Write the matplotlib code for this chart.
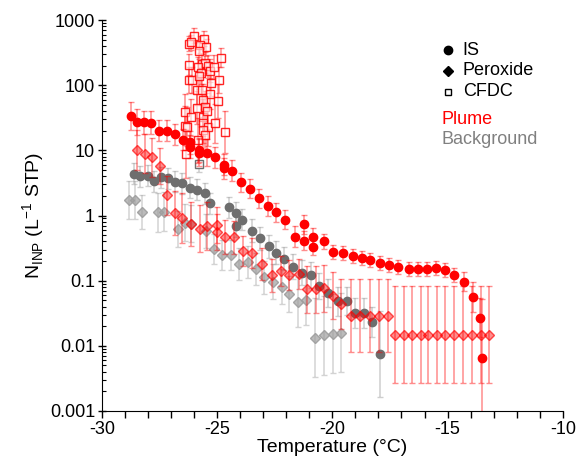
import numpy as np
import matplotlib
matplotlib.use('Agg')
import matplotlib.pyplot as plt
from matplotlib.ticker import MultipleLocator, FixedLocator, FixedFormatter, LogLocator, NullFormatter

plt.rcParams['font.family'] = ['Liberation Sans', 'DejaVu Sans']
plt.rcParams['axes.unicode_minus'] = False

# plume, immersion (IS)
is_plume_t = [-28.74, -28.49, -28.19, -27.87, -27.54, -27.17, -26.82, -26.49, -26.17, -26.17,
              -25.80, -25.80, -25.43, -25.08, -24.71, -24.71, -24.35, -23.97, -23.58, -23.18,
              -22.81, -22.44, -22.05, -21.63, -21.22, -21.22, -20.82, -20.82, -20.38, -19.99,
              -19.53, -19.12, -18.73, -18.36, -17.93, -17.52, -17.16, -16.69, -16.30, -15.90,
              -15.50, -15.11, -14.73, -14.30, -13.89, -13.57, -13.50]
is_plume_n = [33.7, 27.3, 27.0, 26.6, 19.9, 19.9, 17.7, 14.5, 13.3, 11.4,
              10.1, 9.2, 9.2, 7.9, 5.97, 5.3, 4.9, 3.25, 2.59, 1.84,
              1.40, 1.12, 0.86, 0.47, 0.74, 0.41, 0.47, 0.33, 0.40, 0.28,
              0.264, 0.238, 0.221, 0.211, 0.188, 0.177, 0.164, 0.153, 0.153, 0.153,
              0.156, 0.145, 0.124, 0.097, 0.056, 0.027, 0.0066]
is_plume_f = [1.65, 1.6, 1.5, 1.5, 1.45, 1.45, 1.45, 1.45, 1.5, 1.5,
              1.55, 1.6, 1.6, 1.45, 1.45, 1.45, 1.45, 1.4, 1.4, 1.4,
              1.4, 1.4, 1.4, 1.45, 1.4, 1.4, 1.35, 1.35, 1.3, 1.28,
              1.28, 1.28, 1.28, 1.28, 1.28, 1.28, 1.28, 1.28, 1.28, 1.28,
              1.28, 1.28, 1.28, 1.4, 1.7, 2.0, 8.0]

# plume, peroxide
px_plume_t = [-28.47, -28.11, -27.82, -27.48, -27.17, -26.83, -26.51, -26.15, -25.76, -25.43,
              -25.02, -25.02, -24.64, -24.25, -23.87, -23.48, -23.07, -22.64, -22.22, -21.86,
              -21.43, -21.11, -20.72, -20.35, -19.99, -19.62, -19.20, -18.81, -18.37, -17.97,
              -17.59, -17.26, -16.90, -16.54, -16.17, -15.83, -15.47, -15.09, -14.73, -14.34,
              -13.95, -13.56, -13.18]
px_plume_n = [10.1, 8.9, 7.8, 5.8, 2.05, 1.10, 0.92, 0.74, 0.63, 0.69,
              0.72, 0.56, 0.47, 0.46, 0.29, 0.27, 0.18, 0.121, 0.14, 0.124,
              0.125, 0.074, 0.074, 0.076, 0.059, 0.044, 0.029, 0.029, 0.029, 0.029,
              0.029, 0.0148, 0.0148, 0.0148, 0.0148, 0.0148, 0.0148, 0.0148, 0.0148, 0.0148,
              0.0148, 0.0148, 0.0148]
px_plume_f = [2.0, 2.0, 2.0, 1.9, 2.0, 2.2, 2.4, 2.2, 2.3, 2.3,
              1.9, 1.9, 1.8, 1.8, 1.7, 1.7, 1.75, 1.8, 1.7, 1.7,
              1.7, 2.3, 2.3, 2.3, 2.3, 2.4, 3.6, 3.6, 3.6, 3.6,
              3.6, 5.5, 5.5, 5.5, 5.5, 5.5, 5.5, 5.5, 5.5, 5.5,
              5.5, 5.5, 5.5]

# plume, CFDC
cf_plume_t = [-25.99, -26.22, -26.12, -25.58, -25.75, -25.47, -25.78, -24.83, -26.23, -25.65,
              -25.54, -25.82, -25.39, -25.31, -25.13, -25.71, -26.21, -26.08, -25.79, -24.93,
              -25.28, -25.89, -25.67, -25.31, -25.60, -24.98, -25.87, -25.51, -26.40, -26.14,
              -25.63, -25.43, -25.62, -25.41, -25.08, -26.40, -26.30, -25.62, -25.53, -24.68,
              -25.85, -26.37]
cf_plume_n = [573, 431, 455, 520, 418, 381, 337, 266, 206, 210,
              223, 190, 194, 166, 192, 156, 120, 120, 138, 120,
              109, 83, 85, 73, 59, 57, 45, 46, 39, 32,
              32, 40, 26, 23, 26, 24, 23, 20.6, 17.2, 19,
              14.2, 8.9]
cf_plume_f = [1.3, 1.3, 1.3, 1.3, 1.35, 1.35, 1.35, 1.4, 1.45, 1.45,
              1.45, 1.45, 1.5, 1.5, 1.5, 1.5, 1.6, 1.6, 1.6, 1.6,
              1.6, 1.7, 1.7, 1.7, 1.8, 1.8, 1.8, 1.8, 1.9, 1.9,
              1.9, 1.9, 2.0, 2.0, 2.0, 2.0, 2.0, 2.1, 2.1, 2.1,
              2.2, 2.4]

# background, immersion (IS)
is_bg_t = [-28.61, -28.34, -28.02, -27.76, -27.44, -27.12, -26.84, -26.51, -26.19, -25.87,
           -25.54, -25.31, -24.48, -24.19, -23.90, -24.19, -23.49, -23.15, -22.76, -22.45,
           -22.08, -21.70, -21.32, -20.94, -20.56, -20.18, -19.77, -19.37, -19.01, -18.62,
           -18.27, -17.95]
is_bg_n = [4.35, 3.98, 4.08, 3.37, 3.87, 3.75, 3.28, 3.13, 2.68, 2.47,
           2.20, 1.54, 1.34, 1.11, 0.865, 0.69, 0.58, 0.45, 0.34, 0.27,
           0.216, 0.164, 0.133, 0.123, 0.083, 0.064, 0.048, 0.049, 0.032, 0.032,
           0.0236, 0.0075]
is_bg_f = [1.45, 1.45, 1.45, 1.45, 1.45, 1.45, 1.45, 1.45, 1.45, 1.45,
           1.45, 1.45, 1.45, 1.45, 1.45, 1.45, 1.5, 1.5, 1.5, 1.5,
           1.5, 1.55, 1.55, 1.6, 1.6, 1.65, 1.65, 1.65, 1.7, 1.7,
           1.7, 4.5]

# background, peroxide
px_bg_t = [-28.84, -28.55, -28.25, -27.56, -27.30, -26.72, -26.41, -26.14, -25.49, -25.15,
           -24.79, -24.39, -24.04, -23.68, -23.33, -22.97, -22.58, -22.20, -21.86, -21.48,
           -21.13, -20.74, -20.38, -19.99, -19.61]
px_bg_n = [1.75, 1.72, 1.13, 1.12, 1.14, 0.62, 0.78, 0.75, 0.58, 0.31,
           0.25, 0.246, 0.179, 0.192, 0.152, 0.112, 0.097, 0.081, 0.063, 0.047,
           0.050, 0.0134, 0.0145, 0.0154, 0.016]
px_bg_f = [1.95, 1.95, 1.8, 2.0, 2.0, 1.9, 1.9, 1.9, 1.8, 1.7,
           1.7, 1.7, 1.75, 1.75, 1.75, 1.8, 1.85, 1.85, 1.9, 2.4,
           2.4, 4.0, 4.0, 4.0, 4.0]

# background, CFDC
cf_bg_t = [-25.80]
cf_bg_n = [6.1]
cf_bg_f = [1.3]

y_ticks = [0.001, 0.01, 0.1, 1, 10, 100, 1000]
y_labels = ['0.001', '0.01', '0.1', '1', '10', '100', '1000']

RED = (1, 0, 0)
GREY_DARK = (0.43, 0.43, 0.43)
GREY_LIGHT = (0.62, 0.62, 0.62)


def bars(n, f):
    n = np.array(n)
    f = np.array(f)
    return [n - n / f, n * f - n]


def draw(ax, t, n, f, marker, ms, fc, ec, ecol, z):
    ax.errorbar(t, n, yerr=bars(n, f), fmt='none', ecolor=ecol, elinewidth=1.1,
                capsize=2, capthick=1, zorder=z)
    ax.plot(t, n, linestyle='none', marker=marker, markersize=ms,
            markerfacecolor=fc, markeredgecolor=ec, markeredgewidth=1, zorder=z + 0.5)


fig = plt.figure(figsize=(5.76, 4.61), dpi=100)
ax = fig.add_axes([0.177, 0.1085, 0.8, 0.848])

draw(ax, px_bg_t, px_bg_n, px_bg_f, 'D', 4.8, GREY_LIGHT + (0.7,), GREY_LIGHT + (0.9,),
     GREY_LIGHT + (0.45,), 2)
draw(ax, is_bg_t, is_bg_n, is_bg_f, 'o', 6, GREY_DARK, GREY_DARK, GREY_LIGHT + (0.5,), 3)
draw(ax, cf_bg_t, cf_bg_n, cf_bg_f, 's', 5.5, 'white', GREY_DARK, GREY_LIGHT + (0.5,), 3)
draw(ax, px_plume_t, px_plume_n, px_plume_f, 'D', 4.8, RED + (0.45,), RED + (0.65,),
     RED + (0.45,), 4)
draw(ax, cf_plume_t, cf_plume_n, cf_plume_f, 's', 5.5, (1, 1, 1, 0.6), RED + (0.85,),
     RED + (0.45,), 5)
draw(ax, is_plume_t, is_plume_n, is_plume_f, 'o', 6, RED, RED, RED + (0.45,), 6)

ax.set_yscale('log')
ax.set_ylim(0.001, 1000)
ax.set_xlim(-30, -10)
ax.yaxis.set_major_locator(FixedLocator(y_ticks))
ax.yaxis.set_major_formatter(FixedFormatter(y_labels))
ax.yaxis.set_minor_locator(LogLocator(base=10, subs=np.arange(2, 10), numticks=20))
ax.yaxis.set_minor_formatter(NullFormatter())
ax.xaxis.set_major_locator(MultipleLocator(5))
ax.xaxis.set_minor_locator(MultipleLocator(1))

ax.spines['top'].set_visible(False)
ax.spines['right'].set_visible(False)
ax.tick_params(axis='both', which='major', labelsize=13, width=1)
ax.tick_params(axis='x', which='both', direction='out')
ax.tick_params(axis='x', which='major', length=5, pad=2)
ax.tick_params(axis='x', which='minor', length=5, width=1)
ax.tick_params(axis='y', which='major', direction='inout', length=6, pad=2)
ax.tick_params(axis='y', which='minor', direction='in', length=3, width=0.8)

ax.set_xlabel('Temperature (°C)', fontsize=14, labelpad=1)
ax.set_ylabel(r'N$_\mathregular{INP}$ (L$^\mathregular{-1}$ STP)', fontsize=14, labelpad=2)

# legend
tr = ax.transAxes
mx, tx = 0.750, 0.783
ax.plot([mx], [0.923], marker='o', color='black', markersize=6, transform=tr, clip_on=False)
ax.plot([mx], [0.870], marker='D', color='black', markersize=4.8, transform=tr, clip_on=False)
ax.plot([mx], [0.817], marker='s', markerfacecolor='white', markeredgecolor='black',
        markersize=5, transform=tr, clip_on=False)
ax.text(tx, 0.923, 'IS', fontsize=13, va='center', transform=tr)
ax.text(tx, 0.870, 'Peroxide', fontsize=13, va='center', transform=tr)
ax.text(tx, 0.817, 'CFDC', fontsize=13, va='center', transform=tr)
ax.text(0.737, 0.746, 'Plume', fontsize=13, va='center', color='red', transform=tr)
ax.text(0.737, 0.695, 'Background', fontsize=13, va='center', color='grey', transform=tr)

fig.savefig('out.png', dpi=100)
